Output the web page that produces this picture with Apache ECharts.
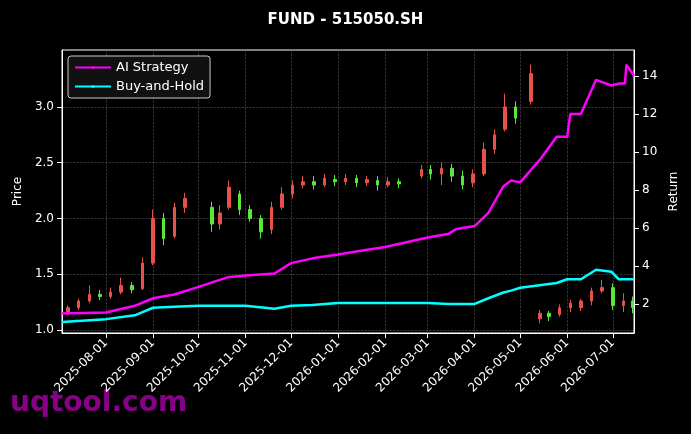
<!DOCTYPE html>
<html><head><meta charset="utf-8">
<script src="https://cdn.jsdelivr.net/npm/echarts@6/dist/echarts.min.js"></script>
<style>html,body{margin:0;background:#000}#c{width:691px;height:434px}</style>
</head><body><div id="c"></div>
<script>
// weekly candles: date, open, close, low, high
var candleDates = ['2025-07-07','2025-07-14','2025-07-21','2025-07-28','2025-08-04','2025-08-11','2025-08-18','2025-08-25',
  '2025-09-01','2025-09-08','2025-09-15','2025-09-22','2025-10-10','2025-10-15','2025-10-21','2025-10-28','2025-11-04',
  '2025-11-11','2025-11-18','2025-11-25','2025-12-02','2025-12-09','2025-12-16','2025-12-23','2025-12-30','2026-01-06',
  '2026-01-13','2026-01-20','2026-01-27','2026-02-03','2026-02-10','2026-02-25','2026-03-03','2026-03-10','2026-03-17',
  '2026-03-24','2026-03-31','2026-04-07','2026-04-14','2026-04-21','2026-04-28','2026-05-08','2026-05-14','2026-05-20',
  '2026-05-27','2026-06-03','2026-06-10','2026-06-17','2026-06-24','2026-07-01','2026-07-08','2026-07-14'];
var opens  = [1.15,1.20,1.26,1.32,1.30,1.34,1.40,1.37,1.60,2.00,1.84,2.10,2.10,1.95,2.10,2.22,2.08,2.00,1.90,2.10,2.22,2.30,2.33,2.30,2.35,2.33,2.36,2.32,2.34,2.30,2.33,2.38,2.44,2.40,2.45,2.38,2.32,2.40,2.62,2.80,3.00,3.05,1.10,1.15,1.14,1.20,1.20,1.26,1.35,1.38,1.22,1.26];
var closes = [1.20,1.26,1.32,1.30,1.34,1.40,1.36,1.60,2.00,1.82,2.10,2.18,1.95,2.05,2.28,2.08,2.00,1.88,2.10,2.22,2.30,2.33,2.30,2.36,2.33,2.36,2.32,2.35,2.30,2.33,2.31,2.44,2.40,2.45,2.38,2.30,2.40,2.62,2.75,3.00,2.90,3.30,1.15,1.12,1.20,1.24,1.26,1.35,1.38,1.22,1.26,1.20];
var lows   = [1.13,1.18,1.24,1.27,1.28,1.32,1.33,1.36,1.58,1.76,1.82,2.05,1.88,1.90,2.08,2.03,1.97,1.82,1.86,2.08,2.18,2.27,2.26,2.28,2.29,2.30,2.28,2.29,2.25,2.28,2.27,2.36,2.35,2.30,2.33,2.26,2.28,2.38,2.58,2.78,2.85,3.02,1.06,1.08,1.12,1.16,1.17,1.22,1.33,1.18,1.16,1.15];
var highs  = [1.22,1.28,1.40,1.36,1.38,1.47,1.43,1.65,2.08,2.05,2.14,2.23,2.15,2.12,2.34,2.25,2.12,2.03,2.15,2.28,2.34,2.38,2.38,2.40,2.39,2.40,2.39,2.38,2.38,2.37,2.36,2.48,2.48,2.50,2.49,2.43,2.44,2.68,2.80,3.12,3.05,3.38,1.18,1.17,1.23,1.27,1.28,1.38,1.45,1.42,1.33,1.30];

var lineDates = ['2025-07-03','2025-08-01','2025-08-20','2025-09-01','2025-09-15','2025-10-01','2025-10-20','2025-11-01','2025-11-20',
  '2025-12-01','2025-12-15','2026-01-01','2026-01-20','2026-02-01','2026-03-01','2026-03-15','2026-03-20','2026-04-01','2026-04-10',
  '2026-04-20','2026-04-25','2026-05-01','2026-05-15','2026-05-25','2026-06-01','2026-06-03','2026-06-10','2026-06-20','2026-06-30',
  '2026-07-05','2026-07-09','2026-07-10','2026-07-15'];
var aiStrategy = [1.5,1.55,1.9,2.3,2.5,2.9,3.4,3.5,3.6,4.15,4.4,4.6,4.85,5.0,5.5,5.7,5.95,6.1,6.8,8.2,8.5,8.4,9.7,10.8,10.8,12.0,12.0,13.8,13.5,13.6,13.6,14.6,14.0];
var buyHold    = [1.05,1.2,1.4,1.8,1.85,1.9,1.9,1.9,1.75,1.9,1.95,2.05,2.05,2.05,2.05,2.0,2.0,2.0,2.3,2.6,2.7,2.85,3.0,3.1,3.3,3.3,3.3,3.8,3.7,3.3,3.3,3.3,3.3];
var monthTicks = ['2025-08-01','2025-09-01','2025-10-01','2025-11-01','2025-12-01','2026-01-01','2026-02-01','2026-03-01','2026-04-01','2026-05-01','2026-06-01','2026-07-01'];

function ts(d){ return new Date(d + 'T00:00:00Z').getTime(); }
function fmt(v){ return new Date(v).toISOString().slice(0, 10); }
var candles = candleDates.map(function(d,i){ return [ts(d), opens[i], closes[i], lows[i], highs[i]]; });
var tickVals = monthTicks.map(ts);

var chart = echarts.init(document.getElementById('c'));
var axisCol = '#ffffff';
chart.setOption({
  backgroundColor: '#000',
  animation: false,
  textStyle: {fontFamily: 'DejaVu Sans'},
  title: {text: 'FUND - 515050.SH', left: 'center', top: 8, textStyle: {color: '#fff', fontSize: 15, fontWeight: 'bold'}},
  legend: {
    left: 68, top: 56, orient: 'vertical', itemGap: 6, itemWidth: 36, itemHeight: 3,
    backgroundColor: '#111', borderColor: '#ccc', borderWidth: 1, borderRadius: 3, padding: [5, 6],
    textStyle: {color: '#fff', fontSize: 13},
    data: ['AI Strategy', 'Buy-and-Hold']
  },
  graphic: [{type: 'text', left: 10, top: 390, style: {text: 'uqtool.com', fill: 'rgba(150,0,150,0.9)', font: 'bold 28px DejaVu Sans'}}],
  grid: {left: 62, right: 57, top: 50, bottom: 101, show: true, borderColor: '#fff', borderWidth: 1},
  xAxis: {
    type: 'value', min: ts('2025-07-03'), max: ts('2026-07-15'),
    axisLine: {lineStyle: {color: axisCol}},
    axisTick: {show: true, customValues: tickVals, lineStyle: {color: axisCol}},
    axisLabel: {customValues: tickVals, rotate: 45, color: '#fff', fontSize: 12, formatter: fmt},
    splitLine: {show: true, lineStyle: {color: '#555', type: 'dashed', width: 0.6}}
  },
  yAxis: [{
    type: 'value', min: 0.973, max: 3.511, name: 'Price', nameLocation: 'middle', nameGap: 38,
    nameTextStyle: {color: '#fff', fontSize: 12},
    axisLine: {show: true, lineStyle: {color: axisCol}},
    axisTick: {show: true, customValues: [1.0,1.5,2.0,2.5,3.0]},
    axisLabel: {customValues: [1.0,1.5,2.0,2.5,3.0], color: '#fff', fontSize: 12, formatter: function(v){ return v.toFixed(1); }},
    splitLine: {show: true, lineStyle: {color: '#555', type: 'dashed', width: 0.6}}
  }, {
    type: 'value', min: 0.47, max: 15.37, name: 'Return', nameLocation: 'middle', nameGap: 34,
    nameTextStyle: {color: '#fff', fontSize: 12},
    axisLine: {show: true, lineStyle: {color: axisCol}},
    axisTick: {show: true, customValues: [2,4,6,8,10,12,14]},
    axisLabel: {customValues: [2,4,6,8,10,12,14], color: '#fff', fontSize: 12},
    splitLine: {show: false}
  }],
  series: [{
    type: 'candlestick', yAxisIndex: 0, barWidth: 3, data: candles,
    itemStyle: {color: '#e8504a', color0: '#58e83a', borderColor: '#e8504a', borderColor0: '#58e83a', borderWidth: 1}
  }, {
    name: 'AI Strategy', type: 'line', yAxisIndex: 1, showSymbol: false, symbol: 'circle', symbolSize: 6,
    data: lineDates.map(function(d,i){ return [ts(d), aiStrategy[i]]; }),
    itemStyle: {color: '#ff00ff'}, lineStyle: {color: '#ff00ff', width: 2.5}
  }, {
    name: 'Buy-and-Hold', type: 'line', yAxisIndex: 1, showSymbol: false, symbol: 'rect', symbolSize: 6,
    data: lineDates.map(function(d,i){ return [ts(d), buyHold[i]]; }),
    itemStyle: {color: '#00ffff'}, lineStyle: {color: '#00ffff', width: 2.5}
  }]
});
</script></body></html>
